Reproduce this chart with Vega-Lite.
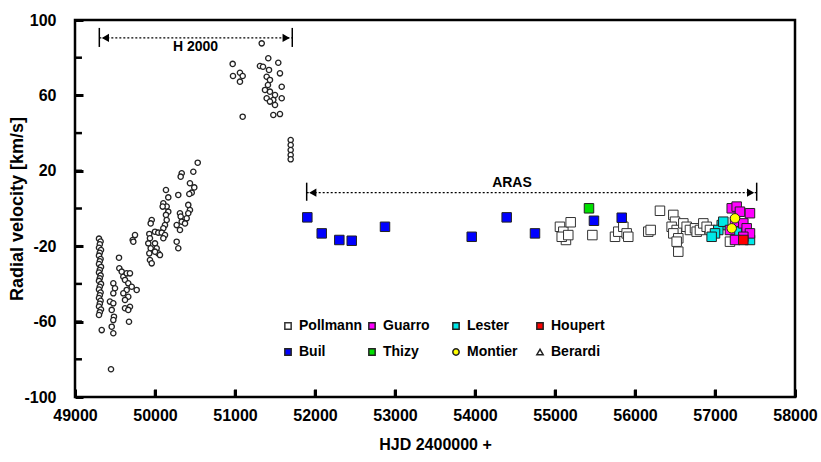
{
  "$schema": "https://vega.github.io/schema/vega-lite/v6.json",
  "width": 720,
  "height": 377,
  "autosize": {"type": "none"},
  "padding": {"left": 75, "top": 20, "right": 26, "bottom": 65},
  "background": "white",
  "config": {
    "view": {"stroke": "black", "strokeWidth": 2.5},
    "axis": {
      "grid": false,
      "domain": false,
      "labelFont": "Liberation Sans",
      "labelFontWeight": "bold",
      "labelFontSize": 16,
      "labelColor": "black",
      "labelFlush": false,
      "titleFont": "Liberation Sans",
      "titleFontWeight": "bold",
      "titleColor": "black"
    },
    "legend": {
      "labelFont": "Liberation Sans",
      "labelFontWeight": "bold",
      "labelFontSize": 14,
      "labelColor": "black"
    }
  },
  "datasets": {
    "h2000": [
      {"x":51334,"y":87.6},{"x":50971,"y":76.7},{"x":51416,"y":79.7},{"x":51541,"y":77.3},{"x":51312,"y":75.6},{"x":51350,"y":75.2},{"x":51425,"y":73.5},{"x":50975,"y":70.3},{"x":51062,"y":72.0},{"x":51096,"y":70.3},{"x":51062,"y":67.3},{"x":51562,"y":71.7},{"x":51396,"y":69.9},{"x":51437,"y":68.2},{"x":51412,"y":65.5},{"x":51584,"y":64.6},{"x":51375,"y":62.9},{"x":51437,"y":62.0},{"x":51500,"y":60.2},{"x":51396,"y":58.5},{"x":51479,"y":57.6},{"x":51584,"y":58.5},{"x":51437,"y":56.7},{"x":51500,"y":54.9},{"x":51096,"y":48.7},{"x":51479,"y":49.6},{"x":51562,"y":50.1},{"x":51696,"y":36.3},{"x":51696,"y":33.7},{"x":51696,"y":31.0},{"x":51696,"y":28.4},{"x":51696,"y":26.1},
      {"x":50534,"y":24.3},{"x":50479,"y":19.5},{"x":50334,"y":18.7},{"x":50321,"y":16.9},{"x":50437,"y":13.4},{"x":50491,"y":11.2},{"x":50459,"y":8.4},{"x":50429,"y":7.7},{"x":50137,"y":9.8},{"x":50166,"y":5.9},{"x":50291,"y":7.2},{"x":50104,"y":2.8},{"x":50146,"y":1.0},{"x":50166,"y":-1.7},{"x":50137,"y":-3.4},{"x":50096,"y":1.0},{"x":50416,"y":1.9},{"x":50437,"y":-0.8},{"x":50416,"y":-2.5},{"x":50396,"y":-5.2},{"x":50312,"y":-2.5},{"x":50321,"y":-4.3},{"x":50334,"y":-7.0},{"x":50271,"y":-8.8},{"x":50312,"y":-11.4},{"x":50375,"y":-7.9},{"x":50146,"y":-6.1},{"x":50125,"y":-8.8},{"x":50104,"y":-10.5},{"x":49959,"y":-6.1},{"x":49946,"y":-7.9},{"x":50000,"y":-12.3},{"x":50041,"y":-12.8},{"x":50084,"y":-12.8},{"x":50125,"y":-14.1},{"x":50104,"y":-15.8},{"x":49929,"y":-13.5},{"x":49937,"y":-15.8},{"x":49916,"y":-18.5},{"x":49946,"y":-21.1},{"x":49929,"y":-23.8},{"x":49937,"y":-27.3},{"x":49959,"y":-29.1},{"x":50000,"y":-18.5},{"x":50021,"y":-21.1},{"x":50041,"y":-23.8},{"x":50062,"y":-24.7},{"x":50000,"y":-22.9},{"x":49750,"y":-14.1},{"x":49721,"y":-16.7},{"x":49729,"y":-17.6},{"x":50271,"y":-17.6},{"x":50291,"y":-21.1},
      {"x":49550,"y":-26.1},{"x":49554,"y":-31.7},{"x":49584,"y":-33.5},{"x":49604,"y":-36.2},{"x":49646,"y":-34.4},{"x":49687,"y":-34.4},{"x":49625,"y":-37.9},{"x":49666,"y":-39.7},{"x":49709,"y":-41.5},{"x":49771,"y":-43.2},{"x":49646,"y":-43.2},{"x":49604,"y":-45.0},{"x":49666,"y":-46.8},{"x":49625,"y":-48.5},{"x":49687,"y":-52.1},{"x":49625,"y":-52.9},{"x":49666,"y":-53.8},{"x":49479,"y":-39.7},{"x":49500,"y":-42.3},{"x":49479,"y":-45.0},{"x":49437,"y":-49.4},{"x":49479,"y":-50.3},{"x":49459,"y":-53.8},{"x":49487,"y":-57.4},{"x":49479,"y":-59.2},{"x":49459,"y":-62.7},{"x":49479,"y":-66.2},{"x":49675,"y":-60.1},{"x":49334,"y":-64.5},{"x":49450,"y":-85.3},
      {"x":49300,"y":-16},{"x":49320,"y":-17.5},{"x":49310,"y":-19},{"x":49300,"y":-20.8},{"x":49325,"y":-22},{"x":49310,"y":-23.5},{"x":49300,"y":-25},{"x":49320,"y":-26.8},{"x":49310,"y":-28},{"x":49300,"y":-29.5},{"x":49325,"y":-31},{"x":49310,"y":-32.6},{"x":49300,"y":-34},{"x":49320,"y":-35.5},{"x":49310,"y":-37},{"x":49300,"y":-38.4},{"x":49325,"y":-40},{"x":49310,"y":-41.5},{"x":49300,"y":-43},{"x":49320,"y":-44.6},{"x":49310,"y":-46},{"x":49300,"y":-47.5},{"x":49320,"y":-49},{"x":49310,"y":-50.5},{"x":49300,"y":-52},{"x":49325,"y":-53.6},{"x":49310,"y":-55},{"x":49300,"y":-56.5}
    ],
    "aras": [
      {"o":"Pollmann","x":55062,"y":-9.7},{"o":"Pollmann","x":55104,"y":-12.3},{"o":"Pollmann","x":55137,"y":-16.7},{"o":"Pollmann","x":55196,"y":-7.3},{"o":"Pollmann","x":55084,"y":-15.0},{"o":"Pollmann","x":55166,"y":-14.1},{"o":"Pollmann","x":55467,"y":-14.1},{"o":"Pollmann","x":56312,"y":-1.2},{"o":"Pollmann","x":55750,"y":-15.0},{"o":"Pollmann","x":55791,"y":-12.3},{"o":"Pollmann","x":55854,"y":-9.7},{"o":"Pollmann","x":55896,"y":-13.2},{"o":"Pollmann","x":55916,"y":-15.0},{"o":"Pollmann","x":56166,"y":-12.3},{"o":"Pollmann","x":56196,"y":-11.4},{"o":"Pollmann","x":56479,"y":-3.4},{"o":"Pollmann","x":56500,"y":-7.0},{"o":"Pollmann","x":56458,"y":-9.7},{"o":"Pollmann","x":56521,"y":-11.4},{"o":"Pollmann","x":56479,"y":-13.2},{"o":"Pollmann","x":56541,"y":-15.8},{"o":"Pollmann","x":56521,"y":-17.6},{"o":"Pollmann","x":56541,"y":-22.9},{"o":"Pollmann","x":56604,"y":-7.9},{"o":"Pollmann","x":56646,"y":-9.7},{"o":"Pollmann","x":56687,"y":-11.4},{"o":"Pollmann","x":56750,"y":-10.5},{"o":"Pollmann","x":56771,"y":-12.3},{"o":"Pollmann","x":56812,"y":-11.4},{"o":"Pollmann","x":56854,"y":-7.9},{"o":"Pollmann","x":56896,"y":-9.7},{"o":"Pollmann","x":56937,"y":-11.4},{"o":"Pollmann","x":57187,"y":-17.6},
      {"o":"Buil","x":51904,"y":-4.7},{"o":"Buil","x":52084,"y":-13.2},{"o":"Buil","x":52304,"y":-16.7},{"o":"Buil","x":52459,"y":-17.1},{"o":"Buil","x":52875,"y":-9.7},{"o":"Buil","x":53959,"y":-15.0},{"o":"Buil","x":54396,"y":-4.7},{"o":"Buil","x":54750,"y":-13.2},{"o":"Buil","x":55487,"y":-6.5},{"o":"Buil","x":55834,"y":-4.9},
      {"o":"Thizy","x":55425,"y":0.1},
      {"o":"Lester","x":57084,"y":-8.8},{"o":"Lester","x":57041,"y":-11.4},{"o":"Lester","x":57000,"y":-13.2},{"o":"Lester","x":56958,"y":-15.0},{"o":"Lester","x":57104,"y":-7.0},{"o":"Lester","x":57271,"y":-12.3},{"o":"Lester","x":57437,"y":-16.7},
      {"o":"Guarro","x":57209,"y":0.1},{"o":"Guarro","x":57271,"y":1.0},{"o":"Guarro","x":57312,"y":-1.7},{"o":"Guarro","x":57437,"y":-2.5},{"o":"Guarro","x":57250,"y":-7.0},{"o":"Guarro","x":57354,"y":-7.9},{"o":"Guarro","x":57396,"y":-10.5},{"o":"Guarro","x":57187,"y":-11.4},{"o":"Guarro","x":57437,"y":-13.2},{"o":"Guarro","x":57354,"y":-15.0},{"o":"Guarro","x":57250,"y":-16.7},
      {"o":"Montier","x":57250,"y":-5.2},{"o":"Montier","x":57209,"y":-10.5},
      {"o":"Houpert","x":57354,"y":-16.7}
    ],
    "xticks": [{"v":50000},{"v":51000},{"v":52000},{"v":53000},{"v":54000},{"v":55000},{"v":56000},{"v":57000}],
    "yticks": [{"v":-80},{"v":-60},{"v":-40},{"v":-20},{"v":0},{"v":20},{"v":40},{"v":60},{"v":80}],
    "lines": [{"x":49304,"x2":51716,"y":90.5},{"x":51896,"x2":57521,"y":8.4}],
    "bars": [{"x":49304,"y":95.8,"y2":85.7},{"x":51716,"y":95.8,"y2":85.7},{"x":51896,"y":13.7,"y2":4.1},{"x":57521,"y":13.7,"y2":4.1}],
    "heads": [{"x":49380,"y":90.5,"dir":"left"},{"x":51640,"y":90.5,"dir":"right"},{"x":51972,"y":8.4,"dir":"left"},{"x":57445,"y":8.4,"dir":"right"}],
    "labels": [{"t":"H 2000","x":50506,"y":85.8},{"t":"ARAS","x":54462,"y":13.4}]
  },
  "layer": [
    {
      "data": {"name": "h2000"},
      "mark": {"type": "point", "shape": "circle", "size": 28, "fill": "white", "stroke": "#222", "strokeWidth": 1.3, "opacity": 1},
      "encoding": {
        "x": {"field": "x", "type": "quantitative", "scale": {"domain": [49000, 58000], "nice": false, "zero": false},
          "axis": {"values": [49000,50000,51000,52000,53000,54000,55000,56000,57000,58000], "format": "d", "title": "HJD  2400000 +", "titleFontSize": 16,
                   "tickColor": "#000000", "tickWidth": 3, "tickSize": -8, "labelPadding": 18, "titlePadding": 13}},
        "y": {"field": "y", "type": "quantitative", "scale": {"domain": [-100, 100], "nice": false, "zero": false},
          "axis": {"values": [-100,-80,-60,-40,-20,0,20,40,60,80,100], "labelExpr": "(datum.value + 100) % 40 === 0 ? '' + datum.value : ''", "title": "Radial velocity [km/s]", "titleFontSize": 18,
                   "tickColor": "#000000", "tickWidth": 3, "tickSize": -8, "labelPadding": 27, "titlePadding": -3}}
      }
    },
    {
      "data": {"name": "xticks"},
      "mark": {"type": "rule", "color": "black", "strokeWidth": 2.5},
      "encoding": {
        "x": {"field": "v", "type": "quantitative"},
        "y": {"datum": -100},
        "y2": {"datum": -96.3}
      }
    },
    {
      "data": {"name": "yticks"},
      "mark": {"type": "rule", "color": "black", "strokeWidth": 2.5},
      "encoding": {
        "y": {"field": "v", "type": "quantitative"},
        "x": {"datum": 49000},
        "x2": {"datum": 49087}
      }
    },
    {
      "data": {"name": "lines"},
      "mark": {"type": "rule", "color": "black", "strokeWidth": 1.3, "strokeDash": [2, 2]},
      "encoding": {
        "x": {"field": "x", "type": "quantitative"},
        "x2": {"field": "x2"},
        "y": {"field": "y", "type": "quantitative"}
      }
    },
    {
      "data": {"name": "bars"},
      "mark": {"type": "rule", "color": "black", "strokeWidth": 1.5},
      "encoding": {
        "x": {"field": "x", "type": "quantitative"},
        "y": {"field": "y", "type": "quantitative"},
        "y2": {"field": "y2"}
      }
    },
    {
      "data": {"name": "heads"},
      "transform": [{"filter": "datum.dir === 'left'"}],
      "mark": {"type": "point", "shape": "triangle-left", "filled": true, "color": "black", "size": 70, "opacity": 1},
      "encoding": {
        "x": {"field": "x", "type": "quantitative"},
        "y": {"field": "y", "type": "quantitative"}
      }
    },
    {
      "data": {"name": "heads"},
      "transform": [{"filter": "datum.dir === 'right'"}],
      "mark": {"type": "point", "shape": "triangle-right", "filled": true, "color": "black", "size": 70, "opacity": 1},
      "encoding": {
        "x": {"field": "x", "type": "quantitative"},
        "y": {"field": "y", "type": "quantitative"}
      }
    },
    {
      "data": {"name": "labels"},
      "mark": {"type": "text", "font": "Liberation Sans", "fontWeight": "bold", "fontSize": 14, "color": "black", "baseline": "middle", "align": "center"},
      "encoding": {
        "x": {"field": "x", "type": "quantitative"},
        "y": {"field": "y", "type": "quantitative"},
        "text": {"field": "t"}
      }
    },
    {
      "data": {"name": "aras"},
      "mark": {"type": "point", "size": 90, "strokeWidth": 1, "opacity": 1, "fillOpacity": 1},
      "encoding": {
        "x": {"field": "x", "type": "quantitative"},
        "y": {"field": "y", "type": "quantitative"},
        "fill": {"field": "o", "type": "nominal", "title": null,
          "scale": {"domain": ["Pollmann","Guarro","Lester","Houpert","Buil","Thizy","Montier","Berardi"],
                    "range": ["white","#ff00ff","#00e8e8","#ff0000","#0000ff","#00e000","#ffff00","white"]},
          "legend": {"orient": "none", "legendX": 206, "legendY": 299, "columns": 4, "gridAlign": "all", "columnPadding": 2, "rowPadding": 12, "symbolSize": 40, "labelOffset": 4, "direction": "horizontal"}},
        "shape": {"field": "o", "type": "nominal", "title": null,
          "scale": {"domain": ["Pollmann","Guarro","Lester","Houpert","Buil","Thizy","Montier","Berardi"],
                    "range": ["square","square","square","square","square","square","circle","triangle-up"]}},
        "stroke": {"field": "o", "type": "nominal", "title": null,
          "scale": {"domain": ["Pollmann","Guarro","Lester","Houpert","Buil","Thizy","Montier","Berardi"],
                    "range": ["#333","#222","#222","#222","#222","#222","#222","#222"]}}
      }
    }
  ]
}
